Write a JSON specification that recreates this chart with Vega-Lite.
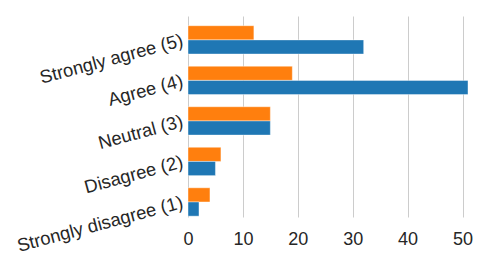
{
  "$schema": "https://vega.github.io/schema/vega-lite/v6.json",
  "width": 294,
  "height": 201,
  "autosize": "none",
  "padding": {"left": 188, "top": 16, "right": 17, "bottom": 55},
  "background": "white",
  "config": {
    "view": {"stroke": null},
    "font": "Liberation Sans"
  },
  "data": {
    "values": [
      {"response": "Strongly agree (5)", "series": "Series A", "count": 12},
      {"response": "Strongly agree (5)", "series": "Series B", "count": 32},
      {"response": "Agree (4)", "series": "Series A", "count": 19},
      {"response": "Agree (4)", "series": "Series B", "count": 51},
      {"response": "Neutral (3)", "series": "Series A", "count": 15},
      {"response": "Neutral (3)", "series": "Series B", "count": 15},
      {"response": "Disagree (2)", "series": "Series A", "count": 6},
      {"response": "Disagree (2)", "series": "Series B", "count": 5},
      {"response": "Strongly disagree (1)", "series": "Series A", "count": 4},
      {"response": "Strongly disagree (1)", "series": "Series B", "count": 2}
    ]
  },
  "mark": {"type": "bar", "stroke": "white", "strokeWidth": 0.6, "strokeOpacity": 0.7},
  "encoding": {
    "y": {
      "field": "response",
      "type": "nominal",
      "sort": ["Strongly agree (5)", "Agree (4)", "Neutral (3)", "Disagree (2)", "Strongly disagree (1)"],
      "scale": {"paddingInner": 0.3, "paddingOuter": 0.13, "align": 0.92},
      "axis": {
        "title": null,
        "domain": false,
        "ticks": false,
        "grid": false,
        "bandPosition": 0.75,
        "labelAngle": -15,
        "labelFontSize": 18.4,
        "labelColor": "#262626",
        "labelPadding": 6,
        "labelLimit": 300
      }
    },
    "yOffset": {
      "field": "series",
      "type": "nominal",
      "sort": ["Series A", "Series B"],
      "scale": {"paddingInner": 0, "paddingOuter": 0}
    },
    "x": {
      "field": "count",
      "type": "quantitative",
      "scale": {"domain": [0, 53.55], "nice": false},
      "axis": {
        "title": null,
        "values": [0, 10, 20, 30, 40, 50],
        "domain": false,
        "ticks": false,
        "grid": true,
        "gridColor": "#cccccc",
        "gridWidth": 1,
        "labelFontSize": 18,
        "labelColor": "#262626",
        "labelPadding": 13,
        "labelFlush": false
      }
    },
    "color": {
      "field": "series",
      "type": "nominal",
      "scale": {"domain": ["Series A", "Series B"], "range": ["#ff7f0e", "#1f77b4"]},
      "legend": null
    }
  }
}
